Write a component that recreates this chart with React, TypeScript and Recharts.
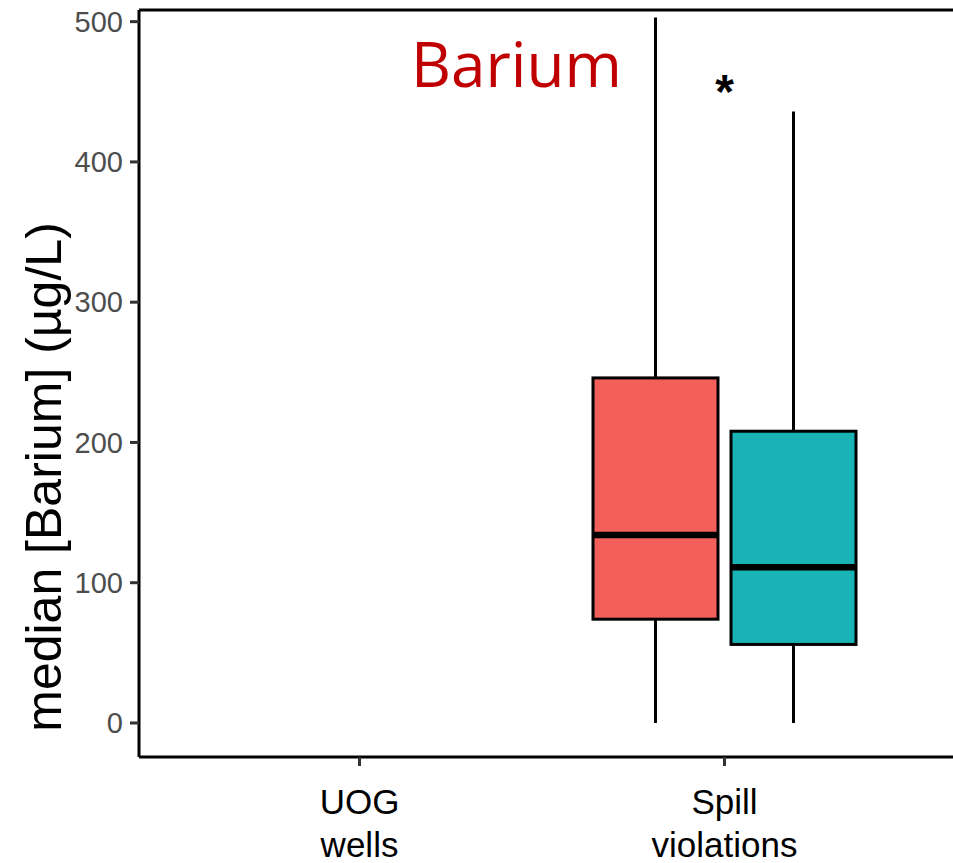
import React from 'react';
import {
  ComposedChart,
  Bar,
  XAxis,
  YAxis,
  ReferenceLine,
  ReferenceDot,
} from 'recharts';

const categories = ['UOG\nwells', 'Spill\nviolations'];

// box stats per category (null = no box)
const redMin = [null, 0];
const redQ1 = [null, 74];
const redMedian = [null, 134];
const redQ3 = [null, 246];
const redMax = [null, 503];

const tealMin = [null, 0];
const tealQ1 = [null, 56];
const tealMedian = [null, 111];
const tealQ3 = [null, 208];
const tealMax = [null, 436];

const yTicks = [0, 100, 200, 300, 400, 500];
const yDomain = [-24.25, 508.3];

const starCategory = 'Spill\nviolations';
const starValue = 455;

const data = categories.map((category, i) => ({
  category,
  red: redMax[i] == null ? null : [redMin[i], redMax[i]],
  redStats: { min: redMin[i], q1: redQ1[i], median: redMedian[i], q3: redQ3[i], max: redMax[i] },
  teal: tealMax[i] == null ? null : [tealMin[i], tealMax[i]],
  tealStats: { min: tealMin[i], q1: tealQ1[i], median: tealMedian[i], q3: tealQ3[i], max: tealMax[i] },
}));

function makeBoxShape(statsKey: string, fill: string) {
  return function BoxShape(props: any) {
    const { x, y, width, height, payload } = props;
    const s = payload?.[statsKey];
    if (!s || s.max == null || x == null || isNaN(y) || isNaN(height)) return null;
    const top = Math.min(y, y + height);
    const bottom = Math.max(y, y + height);
    const pix = (v: number) => bottom - ((v - s.min) / (s.max - s.min)) * (bottom - top);
    const cx = x + width / 2;
    return (
      <g>
        <line x1={cx} x2={cx} y1={pix(s.max)} y2={pix(s.q3)} stroke="#000" strokeWidth={3} />
        <line x1={cx} x2={cx} y1={pix(s.q1)} y2={pix(s.min)} stroke="#000" strokeWidth={3} />
        <rect
          x={x}
          y={pix(s.q3)}
          width={width}
          height={pix(s.q1) - pix(s.q3)}
          fill={fill}
          stroke="#000"
          strokeWidth={3}
        />
        <line x1={x} x2={x + width} y1={pix(s.median)} y2={pix(s.median)} stroke="#000" strokeWidth={6.5} />
      </g>
    );
  };
}

function XTick(props: any) {
  const { x, y, payload } = props;
  const lines = String(payload.value).split('\n');
  return (
    <g transform={`translate(${x},${y})`}>
      {lines.map((line, i) => (
        <text
          key={i}
          x={0}
          y={46 + i * 43}
          textAnchor="middle"
          fontFamily="'Liberation Sans', Arial, sans-serif"
          fontSize={35}
          fill="#000"
        >
          {line}
        </text>
      ))}
    </g>
  );
}

function YLabel() {
  return (
    <text
      x={61}
      y={477}
      transform="rotate(-90 61 477)"
      textAnchor="middle"
      fontFamily="'Liberation Sans', Arial, sans-serif"
      fontSize={50}
      fill="#000"
    >
      median [Barium] (µg/L)
    </text>
  );
}

function Star(props: any) {
  const { cx, cy } = props;
  return (
    <text
      x={cx}
      y={cy + 23}
      textAnchor="middle"
      fontFamily="'Liberation Sans', Arial, sans-serif"
      fontWeight="bold"
      fontSize={48}
      fill="#000"
    >
      *
    </text>
  );
}

export default function App() {
  return (
    <div style={{ position: 'absolute', left: 0, top: 0, width: 953, height: 863, background: '#fff' }}>
      <ComposedChart
        width={953}
        height={863}
        data={data}
        margin={{ top: 10, right: 0, bottom: 0, left: 0 }}
        barSize={125}
        barGap={13}
      >
        <XAxis
          dataKey="category"
          height={106}
          padding={{ left: 38, right: 46 }}
          axisLine={{ stroke: '#000', strokeWidth: 3 }}
          tickLine={{ stroke: '#333', strokeWidth: 3 }}
          tickSize={9}
          tick={<XTick />}
          interval={0}
        />
        <YAxis
          type="number"
          domain={yDomain}
          ticks={yTicks}
          allowDataOverflow
          width={139}
          axisLine={{ stroke: '#000', strokeWidth: 3 }}
          tickLine={{ stroke: '#333', strokeWidth: 3 }}
          tickSize={9}
          tickMargin={7}
          tick={{ fontSize: 29, fill: '#4D4D4D', fontFamily: "'Liberation Sans', Arial, sans-serif" }}
          label={<YLabel />}
        />
        <ReferenceLine y={yDomain[1]} stroke="#000" strokeWidth={3} />
        <Bar dataKey="red" shape={makeBoxShape('redStats', '#F3605B')} isAnimationActive={false} />
        <Bar dataKey="teal" shape={makeBoxShape('tealStats', '#19B2B5')} isAnimationActive={false} />
        <ReferenceDot x={starCategory} y={starValue} r={0} shape={<Star />} />
      </ComposedChart>
      <svg
        width={953}
        height={110}
        style={{ position: 'absolute', left: 0, top: 0, pointerEvents: 'none' }}
      >
        <text x={411} y={87} fontFamily="'Open Sans', sans-serif" fontSize={62} fill="#C00000">
          Barium
        </text>
      </svg>
    </div>
  );
}
